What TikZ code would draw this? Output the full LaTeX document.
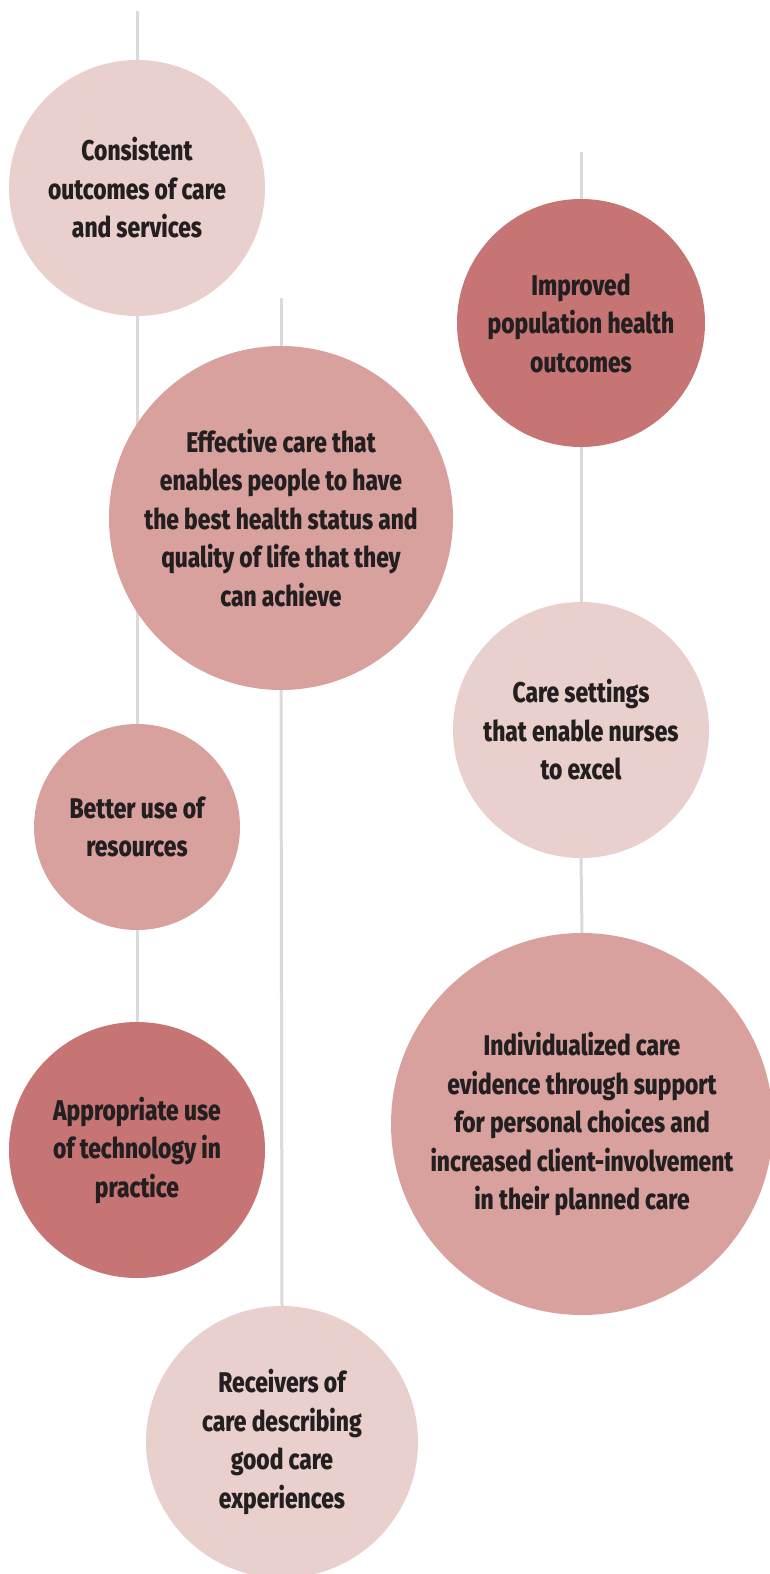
\documentclass[tikz,border=0pt]{standalone}
\usepackage{fontspec}
\usepackage{tikz}
\usetikzlibrary{backgrounds}
\newfontfamily\circfont{Fira Sans}[FakeStretch=0.80,BoldFont={Fira Sans ExtraBold}]
\definecolor{pinklight}{RGB}{234,208,204}
\definecolor{pinkmid}{RGB}{217,161,158}
\definecolor{pinkdark}{RGB}{198,116,116}
\definecolor{stemgrey}{RGB}{218,218,218}
\definecolor{inktext}{RGB}{35,31,32}

\begin{document}
\begin{tikzpicture}[x=1pt,y=-1pt,
  goal/.style={circle,inner sep=0pt,align=center,text=inktext,
    font=\circfont\bfseries\fontsize{28.5}{38.5}\selectfont},
  stem/.style={stemgrey,line width=3pt}]
\useasboundingbox (0,0) rectangle (769,1574);

\node [goal,fill=pinklight,minimum size=256pt] (consistent) at (137,188)
{Consistent\\outcomes of care\\and services};
\node [goal,fill=pinkmid,minimum size=344pt] (effective) at (281,518)
{Effective care that\\enables people to have\\the best health status and\\quality of life that they\\can achieve};
\node [goal,fill=pinkmid,minimum size=206pt] (resources) at (137,827)
{Better use of\\resources};
\node [goal,fill=pinkdark,minimum size=256pt] (technology) at (137,1150)
{Appropriate use\\of technology in\\practice};
\node [goal,fill=pinklight,minimum size=272pt] (receivers) at (282,1442)
{Receivers of\\care describing\\good care\\experiences};
\node [goal,fill=pinkdark,minimum size=248pt] (population) at (581,323)
{Improved\\population health\\outcomes};
\node [goal,fill=pinklight,minimum size=256pt] (settings) at (581,730)
{Care settings\\that enable nurses\\to excel};
\node [goal,fill=pinkmid,minimum size=382pt] (individual) at (582,1124)
{Individualized care\\evidence through support\\for personal choices and\\increased client-involvement\\in their planned care};

\coordinate (topleft) at (137,11);
\coordinate (topmid) at (281,298);
\coordinate (topright) at (581,152);

\begin{scope}[on background layer]
\draw [stem] (topleft) -- (consistent.north);
\draw [stem] (consistent.south) -- (resources.north);
\draw [stem] (resources.south) -- (technology.north);
\draw [stem] (topmid) -- (effective.north);
\draw [stem] (effective.south) -- (receivers.north);
\draw [stem] (topright) -- (population.north);
\draw [stem] (population.south) -- (settings.north);
\draw [stem] (settings.south) -- (individual.north);
\end{scope}
\end{tikzpicture}
\end{document}
